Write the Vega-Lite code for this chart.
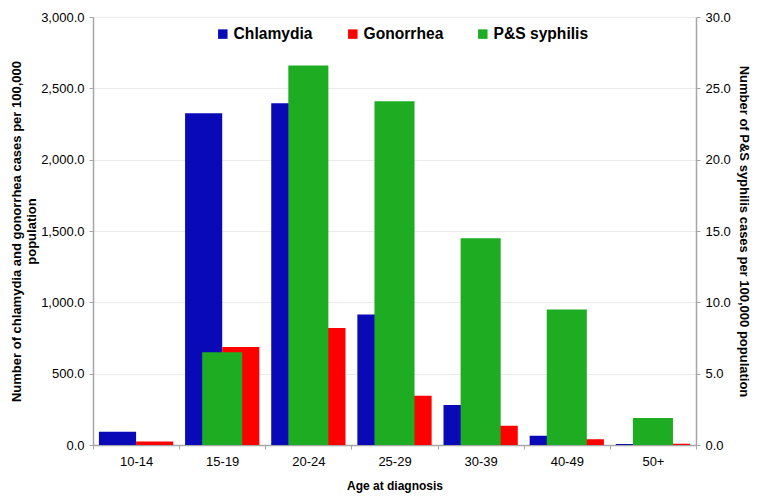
{
  "$schema": "https://vega.github.io/schema/vega-lite/v6.json",
  "width": 603,
  "height": 428,
  "autosize": {"type": "none"},
  "padding": {"left": 93, "top": 17, "right": 66, "bottom": 53},
  "background": "white",
  "config": {
    "font": "Liberation Sans",
    "view": {"stroke": null},
    "axis": {
      "domainColor": "#A6A6A6",
      "domainWidth": 1.5,
      "tickColor": "#A6A6A6",
      "tickWidth": 1,
      "tickSize": 4,
      "labelFont": "Liberation Sans",
      "labelFontSize": 13,
      "labelColor": "#000000",
      "titleFont": "Liberation Sans",
      "titleFontSize": 13,
      "titleFontWeight": "bold",
      "titleColor": "#000000"
    }
  },
  "data": {
    "values": [
      {"age": "10-14", "disease": "Chlamydia", "value": 93},
      {"age": "15-19", "disease": "Chlamydia", "value": 2325},
      {"age": "20-24", "disease": "Chlamydia", "value": 2395},
      {"age": "25-29", "disease": "Chlamydia", "value": 915},
      {"age": "30-39", "disease": "Chlamydia", "value": 280},
      {"age": "40-49", "disease": "Chlamydia", "value": 65},
      {"age": "50+", "disease": "Chlamydia", "value": 7},
      {"age": "10-14", "disease": "Gonorrhea", "value": 25},
      {"age": "15-19", "disease": "Gonorrhea", "value": 687},
      {"age": "20-24", "disease": "Gonorrhea", "value": 820},
      {"age": "25-29", "disease": "Gonorrhea", "value": 345},
      {"age": "30-39", "disease": "Gonorrhea", "value": 135},
      {"age": "40-49", "disease": "Gonorrhea", "value": 40},
      {"age": "50+", "disease": "Gonorrhea", "value": 8},
      {"age": "10-14", "disease": "P&S syphilis", "value": 0},
      {"age": "15-19", "disease": "P&S syphilis", "value": 6.5},
      {"age": "20-24", "disease": "P&S syphilis", "value": 26.6},
      {"age": "25-29", "disease": "P&S syphilis", "value": 24.1},
      {"age": "30-39", "disease": "P&S syphilis", "value": 14.5},
      {"age": "40-49", "disease": "P&S syphilis", "value": 9.5},
      {"age": "50+", "disease": "P&S syphilis", "value": 1.9}
    ]
  },
  "layer": [
    {
      "transform": [{"filter": "datum.disease !== 'P&S syphilis'"}],
      "mark": {"type": "bar"},
      "encoding": {
        "x": {
          "field": "age",
          "type": "nominal",
          "sort": ["10-14", "15-19", "20-24", "25-29", "30-39", "40-49", "50+"],
          "scale": {"paddingInner": 0, "paddingOuter": 0},
          "axis": {
            "title": "Age at diagnosis",
            "titleFontSize": 12,
            "labelAngle": 0,
            "tickBand": "extent",
            "labelPadding": 6,
            "titlePadding": 12
          }
        },
        "xOffset": {
          "field": "disease",
          "type": "nominal",
          "scale": {"domain": ["Chlamydia", "Gonorrhea"], "paddingInner": 0, "paddingOuter": 0.16}
        },
        "y": {
          "field": "value",
          "type": "quantitative",
          "scale": {"domain": [0, 3000], "nice": false},
          "axis": {
            "orient": "left",
            "title": ["Number of chlamydia and gonorrhea cases per 100,000", "population"],
            "titleLineHeight": 15,
            "values": [0, 500, 1000, 1500, 2000, 2500, 3000],
            "format": ",.1f",
            "grid": true,
            "gridColor": "#EBEBEB",
            "labelPadding": 5,
            "titlePadding": 2
          }
        },
        "color": {
          "field": "disease",
          "type": "nominal",
          "scale": {
            "domain": ["Chlamydia", "Gonorrhea", "P&S syphilis"],
            "range": ["#0909B8", "#FF0000", "#1DAC22"]
          },
          "legend": {
            "title": null,
            "orient": "none",
            "legendX": 122,
            "legendY": 9,
            "direction": "horizontal",
            "columns": 3,
            "gridAlign": "all",
            "columnPadding": 16,
            "padding": 0,
            "symbolType": "square",
            "symbolSize": 90,
            "symbolStrokeWidth": 0,
            "symbolOpacity": 1,
            "labelFontSize": 15.6,
            "labelFontWeight": "bold",
            "labelColor": "#000000",
            "labelOffset": 3
          }
        }
      }
    },
    {
      "transform": [{"filter": "datum.disease === 'P&S syphilis'"}],
      "mark": {"type": "bar", "width": {"band": 0.465}},
      "encoding": {
        "x": {
          "field": "age",
          "type": "nominal",
          "sort": ["10-14", "15-19", "20-24", "25-29", "30-39", "40-49", "50+"]
        },
        "y": {
          "field": "value",
          "type": "quantitative",
          "scale": {"domain": [0, 30], "nice": false},
          "axis": {
            "orient": "right",
            "title": "Number of P&S syphilis cases per 100,000 population",
            "values": [0, 5, 10, 15, 20, 25, 30],
            "format": ".1f",
            "grid": false,
            "labelPadding": 5,
            "titlePadding": 6
          }
        },
        "color": {"field": "disease", "type": "nominal"}
      }
    }
  ],
  "resolve": {"scale": {"y": "independent"}}
}
